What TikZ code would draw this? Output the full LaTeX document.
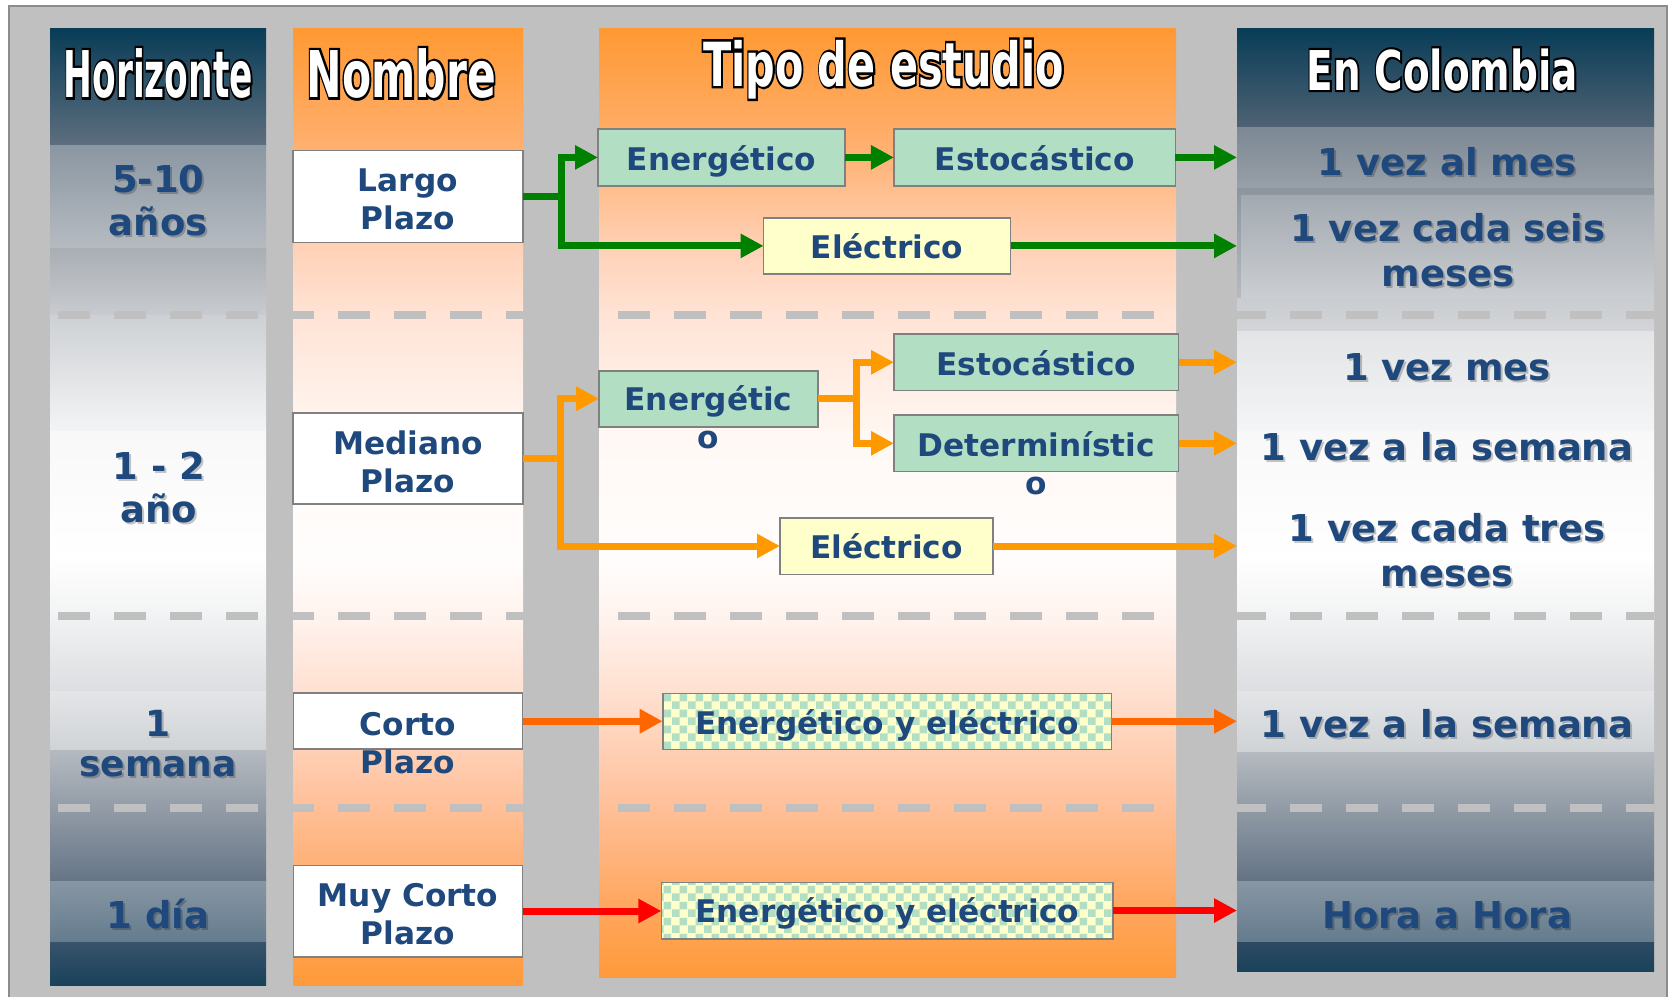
\documentclass[tikz,border=0pt]{standalone}
\usepackage{fontspec}
\usepackage{graphicx}
\usetikzlibrary{arrows.meta,calc,patterns}
\newfontfamily\dv{DejaVu Sans}
\newfontface\hdrface{DejaVu Sans Bold}[FakeBold=8]
\definecolor{bggray}{HTML}{C0C0C0}
\definecolor{framegray}{HTML}{8C8C8C}
\definecolor{boxgray}{HTML}{808080}
\definecolor{tblue}{HTML}{1F497D}
\definecolor{mint}{HTML}{B2DFC4}
\definecolor{cream}{HTML}{FFFFCC}
\definecolor{cgreen}{HTML}{008000}
\definecolor{corange}{HTML}{FF9900}
\definecolor{cdark}{HTML}{FF6600}
\definecolor{cred}{HTML}{FF0000}
\pgfdeclarepatternformonly{chk}{\pgfpointorigin}{\pgfpoint{8pt}{8pt}}{\pgfpoint{8pt}{8pt}}{%
  \pgfpathrectangle{\pgfpointorigin}{\pgfpoint{4pt}{4pt}}%
  \pgfpathrectangle{\pgfpoint{4pt}{4pt}}{\pgfpoint{4pt}{4pt}}%
  \pgfusepath{fill}}
\newcommand\pxu{0.5pt}
\newcommand\twolines[2]{\vtop{\halign{\hfil##\hfil\cr#1\cr#2\cr}}}
\newcommand\band[6]{\definecolor{bandT}{HTML}{#5}\definecolor{bandB}{HTML}{#6}%
  \shade[top color=bandT,bottom color=bandB] (#1,#3) rectangle (#2,#4);}
\newcommand\hdrtext[5]{%
  \node[hdrstyle,text=black] at (#2) {\resizebox{#3}{\height}{\fontsize{#4}{#4}\hdrface #5}};
  \node[hdrstyle,text=white] (#1) at (#2) {\resizebox{#3}{\height}{\fontsize{#4}{#4}\dv\bfseries #5}};}
\newcommand\slab[4]{%
  \node[#2,text=black,opacity=0.22] at ($(#3)+(2,2)$) {#4};
  \node[#2] (#1) at (#3) {#4};}
\begin{document}
\begin{tikzpicture}[x=0.5pt,y=-0.5pt,
  hdrstyle/.style={anchor=base,inner sep=0pt},
  nbox/.style={draw=boxgray,line width=0.8pt,inner sep=0pt,outer sep=0pt},
  chkbox/.style={preaction={fill=cream},pattern=chk,pattern color=mint},
  tbl/.style={text=tblue,inner sep=0pt,anchor=base,font=\dv\bfseries\fontsize{15.6}{19}\selectfont},
  hlbl/.style={text=tblue,inner sep=0pt,anchor=base,font=\dv\bfseries\fontsize{18.5}{21.5}\selectfont},
  hlblb/.style={text=tblue,inner sep=0pt,anchor=base,font=\dv\bfseries\fontsize{18}{20}\selectfont},
  clbl/.style={text=tblue,inner sep=0pt,anchor=base,font=\dv\bfseries\fontsize{18.5}{22.5}\selectfont},
  trunk/.style={line width=3.5pt},
  link/.style={line width=3.5pt,-{Triangle[length=11.5pt,width=11.5pt]}},
  dashline/.style={draw=bggray,line width=3.65pt,dash pattern=on 16pt off 12pt}]
\useasboundingbox (0,0) rectangle (1669,996);
\fill[white] (0,0) rectangle (1669,996);
\filldraw[fill=bggray,draw=framegray,line width=0.75pt] (9,6) rectangle (1667,1004);
% column 1
\band{50}{266}{28}{145}{083C57}{5E6E7E}
\band{50}{266}{145}{248}{8A96A1}{B6BBC1}
\band{50}{266}{248}{315}{A9AEB4}{C8CBCF}
\band{50}{266}{315}{431}{CDD0D4}{F3F4F5}
\band{50}{266}{431}{560}{F8F8F9}{FFFFFF}
\band{50}{266}{560}{616}{FEFEFE}{F2F3F4}
\band{50}{266}{616}{691}{F1F2F3}{DCDEE1}
\band{50}{266}{691}{750}{E3E5E7}{D0D3D6}
\band{50}{266}{750}{881}{B5BAC0}{667586}
\band{50}{266}{881}{942}{8796A3}{647C8E}
\band{50}{266}{942}{985}{38536A}{1A425B}
% column 2
\band{293}{523}{28}{140}{FF9933}{FFAE6B}
\band{293}{523}{140}{250}{FFAE6B}{FFD2B8}
\band{293}{523}{250}{315}{FFD2B8}{FFE3D5}
\band{293}{523}{315}{431}{FFE3D5}{FFF6F1}
\band{293}{523}{431}{560}{FFF8F5}{FFFDFC}
\band{293}{523}{560}{616}{FFFDFC}{FFF3EE}
\band{293}{523}{616}{700}{FFF3EE}{FFDECD}
\band{293}{523}{700}{800}{FFDECD}{FFC19C}
\band{293}{523}{800}{900}{FFC19C}{FFA862}
\band{293}{523}{900}{985}{FFA862}{FF9A3A}
% column 3
\band{599}{1176}{28}{140}{FF9933}{FFAE6B}
\band{599}{1176}{140}{250}{FFAE6B}{FFD2B8}
\band{599}{1176}{250}{315}{FFD2B8}{FFE3D5}
\band{599}{1176}{315}{431}{FFE3D5}{FFF6F1}
\band{599}{1176}{431}{560}{FFF8F5}{FFFDFC}
\band{599}{1176}{560}{616}{FFFDFC}{FFF3EE}
\band{599}{1176}{616}{700}{FFF3EE}{FFDECD}
\band{599}{1176}{700}{800}{FFDECD}{FFC19C}
\band{599}{1176}{800}{900}{FFC19C}{FFA862}
\band{599}{1176}{900}{977}{FFA862}{FF9A3A}
% column 4
\band{1237}{1654}{28}{127}{083C57}{4F6273}
\band{1237}{1654}{127}{188}{7C8894}{98A0A8}
\band{1237}{1654}{188}{298}{8C959E}{B5BAC0}
\band{1241}{1654}{195}{298}{A2A9B0}{CBCED2}
\band{1237}{1654}{298}{331}{C9CCD0}{D3D5D8}
\band{1237}{1654}{331}{431}{E2E4E6}{F4F5F6}
\band{1237}{1654}{431}{560}{F8F8F9}{FFFFFF}
\band{1237}{1654}{560}{616}{FEFEFE}{F2F3F4}
\band{1237}{1654}{616}{691}{F1F2F3}{DCDEE1}
\band{1237}{1654}{691}{752}{E3E5E7}{D0D3D6}
\band{1237}{1654}{752}{881}{B5BAC0}{637384}
\band{1237}{1654}{881}{942}{8796A3}{647C8E}
\band{1237}{1654}{942}{971}{2E4A62}{1A425B}
% dashed separators
\draw[dashline] (58,315) -- (1654,315);
\draw[dashline] (58,616) -- (1654,616);
\draw[dashline] (58,808) -- (1654,808);
% headers
\hdrtext{hH}{158.3,97.3}{94.5pt}{32.2}{Horizonte}
\hdrtext{hN}{401.3,97.3}{94.5pt}{32.2}{Nombre}
\hdrtext{hT}{883.6,86}{180.5pt}{30.4}{Tipo de estudio}
\hdrtext{hC}{1442.2,90}{135.5pt}{27.4}{En Colombia}
% boxes
\node[nbox,fill=white,minimum width=230*\pxu,minimum height=92*\pxu] (lp) at (408,196.3) {};
\node[nbox,fill=white,minimum width=230*\pxu,minimum height=91.3*\pxu] (mp) at (408,458.4) {};
\node[nbox,fill=white,minimum width=229*\pxu,minimum height=56*\pxu] (cp) at (408,721.2) {};
\node[nbox,fill=white,minimum width=229*\pxu,minimum height=91.4*\pxu] (mcp) at (408,911) {};
\node[nbox,fill=mint,minimum width=247*\pxu,minimum height=56.7*\pxu] (en1) at (721.5,157.4) {};
\node[nbox,fill=mint,minimum width=281.5*\pxu,minimum height=56.7*\pxu] (es1) at (1034.7,157.4) {};
\node[nbox,fill=cream,minimum width=247*\pxu,minimum height=56.3*\pxu] (el1) at (887.1,245.9) {};
\node[nbox,fill=mint,minimum width=219*\pxu,minimum height=56*\pxu] (en2) at (708.5,398.7) {};
\node[nbox,fill=mint,minimum width=284.6*\pxu,minimum height=56.7*\pxu] (es2) at (1036.3,362.3) {};
\node[nbox,fill=mint,minimum width=284.6*\pxu,minimum height=56.7*\pxu] (de2) at (1036.3,443.3) {};
\node[nbox,fill=cream,minimum width=213*\pxu,minimum height=56.6*\pxu] (el2) at (886.5,546) {};
\node[nbox,chkbox,minimum width=448.6*\pxu,minimum height=56*\pxu] (ch1) at (887,721.3) {};
\node[nbox,chkbox,minimum width=451.7*\pxu,minimum height=56.4*\pxu] (ch2) at (887.2,910.5) {};
% connectors
\coordinate (c4w) at (1237,0);
\coordinate (j1) at ($(lp.east)+(38,0)$);
\coordinate (j2) at ($(mp.east)+(37,0)$);
\coordinate (j3) at ($(en2.east)+(38.7,0)$);
\draw[trunk,cgreen] (lp.east) -- (j1);
\draw[link,cgreen] (j1) |- (en1.west);
\draw[link,cgreen] (j1) |- (el1.west);
\draw[link,cgreen] (en1.east) -- (es1.west);
\draw[link,cgreen] (es1.east) -- (es1.east -| c4w);
\draw[link,cgreen] (el1.east) -- (el1.east -| c4w);
\draw[trunk,corange] (mp.east) -- (j2);
\draw[link,corange] (j2) |- (en2.west);
\draw[link,corange] (j2) |- (el2.west);
\draw[trunk,corange] (en2.east) -- (j3);
\draw[link,corange] (j3) |- (es2.west);
\draw[link,corange] (j3) |- (de2.west);
\draw[link,corange] (es2.east) -- (es2.east -| c4w);
\draw[link,corange] (de2.east) -- (de2.east -| c4w);
\draw[link,corange] (el2.east) -- (el2.east -| c4w);
\draw[link,cdark] (cp.east) -- (cp.east -| ch1.west);
\draw[link,cdark] (ch1.east) -- (ch1.east -| c4w);
\draw[link,cred] (mcp.east) -- (mcp.east -| ch2.west);
\draw[link,cred] (ch2.east) -- (ch2.east -| c4w);
% box texts
\node[tbl] (lpT) at (408,191.7) {\twolines{Largo}{Plazo}};
\node[tbl] (mpT) at (408,454) {\twolines{Mediano}{Plazo}};
\node[tbl] (cpT) at (408,735) {\twolines{Corto}{Plazo}};
\node[tbl] (mcpT) at (408,906.7) {\twolines{Muy Corto}{Plazo}};
\node[tbl] (en1T) at (721.5,170) {Energético};
\node[tbl] (es1T) at (1034.7,170) {Estocástico};
\node[tbl] (el1T) at (887.1,258.3) {Eléctrico};
\node[tbl] (en2T) at (708.5,410.7) {\twolines{Energétic}{o}};
\node[tbl] (es2T) at (1036.3,375) {Estocástico};
\node[tbl] (de2T) at (1036.3,456.7) {\twolines{Determinístic}{o}};
\node[tbl] (el2T) at (886.5,558.3) {Eléctrico};
\node[tbl] (ch1T) at (887,734) {Energético y eléctrico};
\node[tbl] (ch2T) at (887.2,922.7) {Energético y eléctrico};
% horizon labels
\slab{h1}{hlbl}{158.3,192.7}{\twolines{5-10}{años}}
\slab{h2}{hlbl}{159,479}{\twolines{1 - 2}{año}}
\slab{h3}{hlblb}{158,736}{\twolines{1}{semana}}
\slab{h4}{hlbl}{158,928.3}{1 día}
% Colombia labels
\slab{k1}{clbl}{1447,175}{1 vez al mes}
\slab{k2}{clbl}{1448,241.7}{\twolines{1 vez cada seis}{meses}}
\slab{k3}{clbl}{1447,380}{1 vez mes}
\slab{k4}{clbl}{1447,460}{1 vez a la semana}
\slab{k5}{clbl}{1447,541.7}{\twolines{1 vez cada tres}{meses}}
\slab{k6}{clbl}{1447,737.3}{1 vez a la semana}
\slab{k7}{clbl}{1447,928.3}{Hora a Hora}
\end{tikzpicture}
\end{document}
